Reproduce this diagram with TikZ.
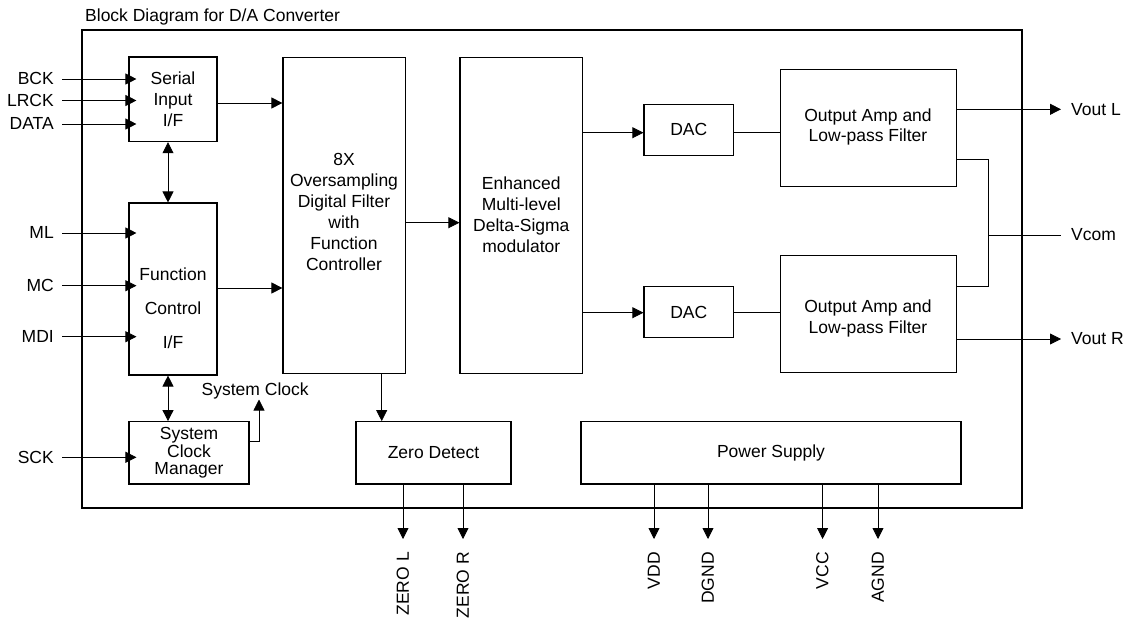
\documentclass[tikz,border=0pt]{standalone}
\usepackage{fontspec}
\setmainfont{Liberation Sans}
\usetikzlibrary{arrows.meta}
\begin{document}
\begin{tikzpicture}[x=1pt,y=-1pt,
  font=\fontsize{17.5}{21}\selectfont,
  blk/.style={draw, line width=1.1pt, inner sep=0pt, align=center},
  lab/.style={inner sep=0pt, text height=11.5pt, text depth=0pt},
  wire/.style={line width=0.8pt},
  arr/.style={wire, -{Triangle[length=11pt,width=11pt]}},
  darr/.style={wire, {Triangle[length=11pt,width=11pt]}-{Triangle[length=11pt,width=11pt]}},
]
\useasboundingbox (0,0) rectangle (1127,621);
% outer frame and title
\node[draw, line width=1.1pt, minimum width=940pt, minimum height=478pt, inner sep=0pt] (frame) at (552,269) {};
\node[lab, anchor=west] (title) at (85,15.5) {Block Diagram for D/A Converter};

% blocks
\node[blk, minimum width=88pt, minimum height=84.7pt] (serial) at (173,99.3) {Serial\\Input\\I/F};
\node[blk, minimum width=88pt, minimum height=172pt] (func) at (173,289) {};
\node[align=center, font=\fontsize{17.5}{34}\selectfont, inner sep=0pt] (functxt) at (173,308) {Function\\Control\\I/F};
\node[blk, minimum width=120pt, minimum height=62.3pt, font=\fontsize{17.5}{17.5}\selectfont] (scm) at (189,452.8) {System\\Clock\\Manager};
\node[blk, minimum width=122.5pt, minimum height=315.7pt] (filter) at (344.2,215.2) {};
\node[align=center, inner sep=0pt] (filtertxt) at (344,212) {8X\\Oversampling\\Digital Filter\\with\\Function\\Controller};
\node[blk, minimum width=122.7pt, minimum height=315.7pt] (ds) at (521.3,215.2) {Enhanced\\Multi-level\\Delta-Sigma\\modulator};
\node[blk, minimum width=89.7pt, minimum height=51.3pt] (dac1) at (688.8,129.7) {DAC};
\node[blk, minimum width=89.7pt, minimum height=51pt] (dac2) at (688.8,312.2) {DAC};
\node[blk, minimum width=175.7pt, minimum height=117.4pt] (out1) at (868.2,128) {};
\node[align=center, font=\fontsize{17.5}{20.5}\selectfont, inner sep=0pt] (out1txt) at (868,126.8) {Output Amp and\\Low-pass Filter};
\node[blk, minimum width=175.7pt, minimum height=117pt] (out2) at (868.2,314.2) {};
\node[align=center, font=\fontsize{17.5}{20.5}\selectfont, inner sep=0pt] (out2txt) at (868,318.5) {Output Amp and\\Low-pass Filter};
\node[blk, minimum width=155pt, minimum height=62.3pt] (zero) at (433.5,452.8) {Zero Detect};
\node[blk, minimum width=380pt, minimum height=62.3pt] (power) at (771,452.8) {Power Supply};

% left input labels
\node[lab, anchor=east] (bck) at (54,79) {BCK};
\node[lab, anchor=east] (lrck) at (54,100.5) {LRCK};
\node[lab, anchor=east] (data) at (54,124) {DATA};
\node[lab, anchor=east] (ml) at (54,233) {ML};
\node[lab, anchor=east] (mc) at (54,285.7) {MC};
\node[lab, anchor=east] (mdi) at (54,336.7) {MDI};
\node[lab, anchor=east] (sck) at (54,457.3) {SCK};
\foreach \n in {bck,lrck,data}
  \draw[arr] ([xshift=8pt]\n.east) -- ([xshift=8pt]\n.east -| serial.west);
\foreach \n in {ml,mc,mdi}
  \draw[arr] ([xshift=8pt]\n.east) -- ([xshift=8pt]\n.east -| func.west);
\draw[arr] ([xshift=8pt]sck.east) -- ([xshift=8pt]sck.east -| scm.west);

% internal connections
\coordinate (y1) at (0,103);
\draw[arr] (serial.east |- y1) -- (filter.west |- y1);
\coordinate (y2) at (0,288);
\draw[arr] (func.east |- y2) -- (filter.west |- y2);
\draw[darr] (serial.south -| 168,0) -- (func.north -| 168,0);
\draw[darr] (func.south -| 168,0) -- (scm.north -| 168,0);
\coordinate (y3) at (0,222.7);
\draw[arr] (filter.east |- y3) -- (ds.west |- y3);
\coordinate (y4) at (0,132.7);
\draw[arr] (ds.east |- y4) -- (dac1.west |- y4);
\draw[wire] (dac1.east |- y4) -- (out1.west |- y4);
\coordinate (y5) at (0,312.7);
\draw[arr] (ds.east |- y5) -- (dac2.west |- y5);
\draw[wire] (dac2.east |- y5) -- (out2.west |- y5);

% system clock
\node[lab, anchor=west] (sysclk) at (201.5,390) {System Clock};
\coordinate (ck) at (259,399.5);
\draw[arr] (scm.east |- 0,441) -| (ck);

% filter to zero detect
\draw[arr] (filter.south -| 381.7,0) -- (zero.north -| 381.7,0);

% outputs right
\node[lab, anchor=west] (voutl) at (1071,109.3) {Vout L};
\node[lab, anchor=west] (vcom) at (1071,235) {Vcom};
\node[lab, anchor=west] (voutr) at (1071,339) {Vout R};
\draw[arr] (out1.east |- voutl) -- ([xshift=-10pt]voutl.west);
\draw[arr] (out2.east |- voutr) -- ([xshift=-10pt]voutr.west);
\coordinate (vj) at (988.7,235);
\draw[wire] (out1.east |- 0,159) -| (vj) |- (out2.east |- 0,286);
\draw[wire] (vj) -- ([xshift=-10pt]vcom.west);

% bottom outputs
\foreach \n/\x/\t in {zl/403/ZERO L, zr/463/ZERO R}{
  \node[lab, rotate=90, anchor=east] (\n) at (\x,552) {\t};
  \coordinate (\n tip) at (\x,539);
  \draw[arr] (zero.south -| \n tip) -- (\n tip);
}
\foreach \n/\x/\t in {vdd/654/VDD, dgnd/708/DGND, vcc/822.6/VCC, agnd/878/AGND}{
  \node[lab, rotate=90, anchor=east] (\n) at (\x,552) {\t};
  \coordinate (\n tip) at (\x,539);
  \draw[arr] (power.south -| \n tip) -- (\n tip);
}
\end{tikzpicture}
\end{document}
